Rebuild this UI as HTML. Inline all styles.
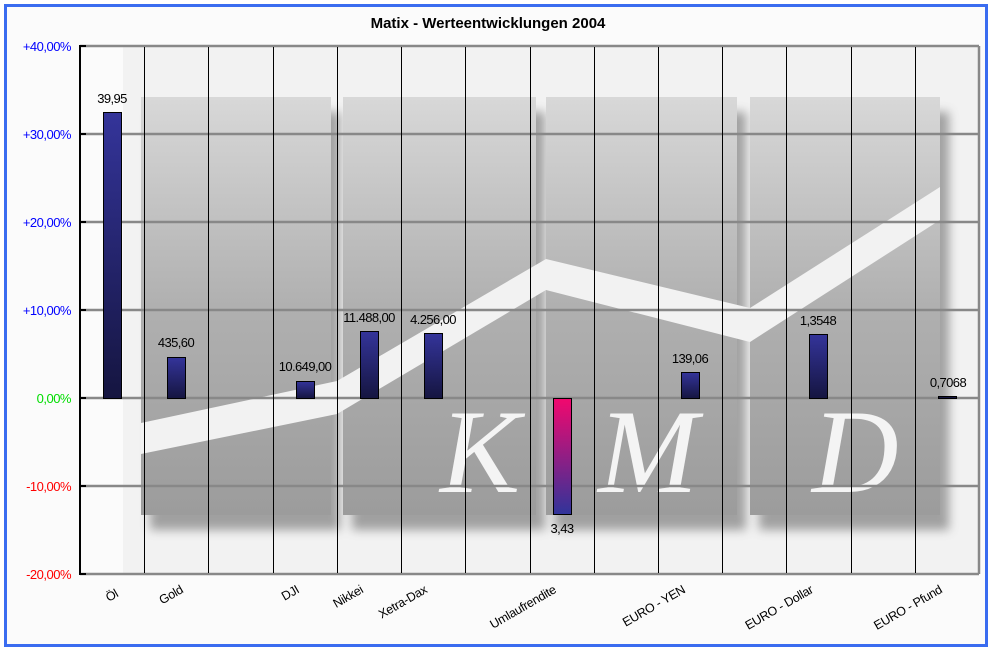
<!DOCTYPE html>
<html><head><meta charset="utf-8"><style>
html,body{margin:0;padding:0;background:#fff;}
svg{display:block;font-family:"Liberation Sans",sans-serif;}
</style></head><body>
<svg width="992" height="650" viewBox="0 0 992 650" xmlns="http://www.w3.org/2000/svg">
<defs>
<linearGradient id="pg" x1="0" y1="0" x2="0" y2="1"><stop offset="0" stop-color="#d8d8d8"/><stop offset="0.5" stop-color="#b0b0b0"/><stop offset="1" stop-color="#9c9c9c"/></linearGradient>
<linearGradient id="bar" x1="0" y1="0" x2="0" y2="1"><stop offset="0" stop-color="#34349a"/><stop offset="1" stop-color="#151540"/></linearGradient>
<linearGradient id="neg" x1="0" y1="0" x2="0" y2="1"><stop offset="0" stop-color="#f2086e"/><stop offset="1" stop-color="#30349a"/></linearGradient>
<filter id="blur"><feGaussianBlur stdDeviation="5"/></filter>
</defs>
<rect x="0" y="0" width="992" height="650" fill="#fff"/>
<rect x="5.5" y="5.5" width="981" height="640" fill="#fbfbfb" stroke="#3a6cf0" stroke-width="3"/>
<text x="488" y="28" text-anchor="middle" font-size="15" font-weight="bold" fill="#000">Matix - Werteentwicklungen 2004</text>
<rect x="80" y="46" width="899" height="528" fill="#fbfbfb"/>
<rect x="123" y="46" width="856" height="528" fill="#f2f2f2"/>
<g filter="url(#blur)" fill="#8c8c8c" opacity="0.8">
<rect x="150" y="112" width="190" height="418"/>
<rect x="352" y="112" width="193" height="418"/>
<rect x="555" y="112" width="191" height="418"/>
<rect x="759" y="112" width="190" height="418"/>
</g>
<rect x="141" y="97" width="190" height="418" fill="url(#pg)"/>
<rect x="343" y="97" width="193" height="418" fill="url(#pg)"/>
<rect x="546" y="97" width="191" height="418" fill="url(#pg)"/>
<rect x="750" y="97" width="190" height="418" fill="url(#pg)"/>
<polygon points="141,423 337,381 546,259 750,308 940,187 940,220 750,342 546,290 337,414 141,454" fill="#f2f2f2"/>
<g font-family="Liberation Serif,serif" font-style="italic" font-size="120" fill="#f4f4f4">
<text x="440" y="492">K</text><text x="598" y="492">M</text><text x="812" y="492">D</text></g>
<g stroke="#888" stroke-width="2.5">
<line x1="80" y1="46" x2="979" y2="46"/><line x1="80" y1="134" x2="979" y2="134"/><line x1="80" y1="222" x2="979" y2="222"/><line x1="80" y1="310" x2="979" y2="310"/><line x1="80" y1="398" x2="979" y2="398"/><line x1="80" y1="486" x2="979" y2="486"/><line x1="80" y1="574" x2="979" y2="574"/><line x1="979" y1="46" x2="979" y2="574"/>
</g>
<g stroke="#000" stroke-width="1">
<line x1="144.5" y1="47" x2="144.5" y2="573"/><line x1="208.5" y1="47" x2="208.5" y2="573"/><line x1="273.5" y1="47" x2="273.5" y2="573"/><line x1="337.5" y1="47" x2="337.5" y2="573"/><line x1="401.5" y1="47" x2="401.5" y2="573"/><line x1="465.5" y1="47" x2="465.5" y2="573"/><line x1="530.5" y1="47" x2="530.5" y2="573"/><line x1="594.5" y1="47" x2="594.5" y2="573"/><line x1="658.5" y1="47" x2="658.5" y2="573"/><line x1="722.5" y1="47" x2="722.5" y2="573"/><line x1="786.5" y1="47" x2="786.5" y2="573"/><line x1="851.5" y1="47" x2="851.5" y2="573"/><line x1="915.5" y1="47" x2="915.5" y2="573"/>
</g>
<g stroke="#000" stroke-width="2"><line x1="80" y1="45" x2="80" y2="575"/>
<line x1="80" y1="46" x2="86" y2="46"/><line x1="80" y1="134" x2="86" y2="134"/><line x1="80" y1="222" x2="86" y2="222"/><line x1="80" y1="310" x2="86" y2="310"/><line x1="80" y1="398" x2="86" y2="398"/><line x1="80" y1="486" x2="86" y2="486"/><line x1="80" y1="574" x2="86" y2="574"/></g>
<g font-size="13" text-anchor="end" letter-spacing="-0.5">
<text x="71" y="51" fill="#0000ff">+40,00%</text><text x="71" y="139" fill="#0000ff">+30,00%</text><text x="71" y="227" fill="#0000ff">+20,00%</text><text x="71" y="315" fill="#0000ff">+10,00%</text><text x="71" y="403" fill="#00dd00">0,00%</text><text x="71" y="491" fill="#ff0000">-10,00%</text><text x="71" y="579" fill="#ff0000">-20,00%</text></g>
<g stroke="#000" stroke-width="1">
<rect x="103.5" y="112.5" width="18" height="286" fill="url(#bar)"/>
<rect x="167.5" y="357.5" width="18" height="41" fill="url(#bar)"/>
<rect x="296.5" y="381.5" width="18" height="17" fill="url(#bar)"/>
<rect x="360.5" y="331.5" width="18" height="67" fill="url(#bar)"/>
<rect x="424.5" y="333.5" width="18" height="65" fill="url(#bar)"/>
<rect x="553.5" y="398.5" width="18" height="116" fill="url(#neg)"/>
<rect x="681.5" y="372.5" width="18" height="26" fill="url(#bar)"/>
<rect x="809.5" y="334.5" width="18" height="64" fill="url(#bar)"/>
<rect x="938.5" y="396.5" width="18" height="2" fill="#151540"/>
</g>
<g font-size="13" text-anchor="middle" fill="#000" letter-spacing="-0.6">
<text x="112" y="103">39,95</text><text x="176" y="347">435,60</text><text x="305" y="371">10.649,00</text><text x="369" y="322">11.488,00</text><text x="433" y="324">4.256,00</text><text x="562" y="533">3,43</text><text x="690" y="363">139,06</text><text x="818" y="325">1,3548</text><text x="948" y="387">0,7068</text></g>
<g font-size="12.5" fill="#000" text-anchor="end" letter-spacing="-0.3">
<text transform="translate(119,596) rotate(-30)">Öl</text>
<text transform="translate(184,592) rotate(-30)">Gold</text>
<text transform="translate(300,592) rotate(-30)">DJI</text>
<text transform="translate(364,592) rotate(-30)">Nikkei</text>
<text transform="translate(428,592) rotate(-30)">Xetra-Dax</text>
<text transform="translate(557,592) rotate(-30)">Umlaufrendite</text>
<text transform="translate(686,592) rotate(-30)">EURO - YEN</text>
<text transform="translate(814,592) rotate(-30)">EURO - Dollar</text>
<text transform="translate(943,592) rotate(-30)">EURO - Pfund</text>
</g>
</svg>
</body></html>
